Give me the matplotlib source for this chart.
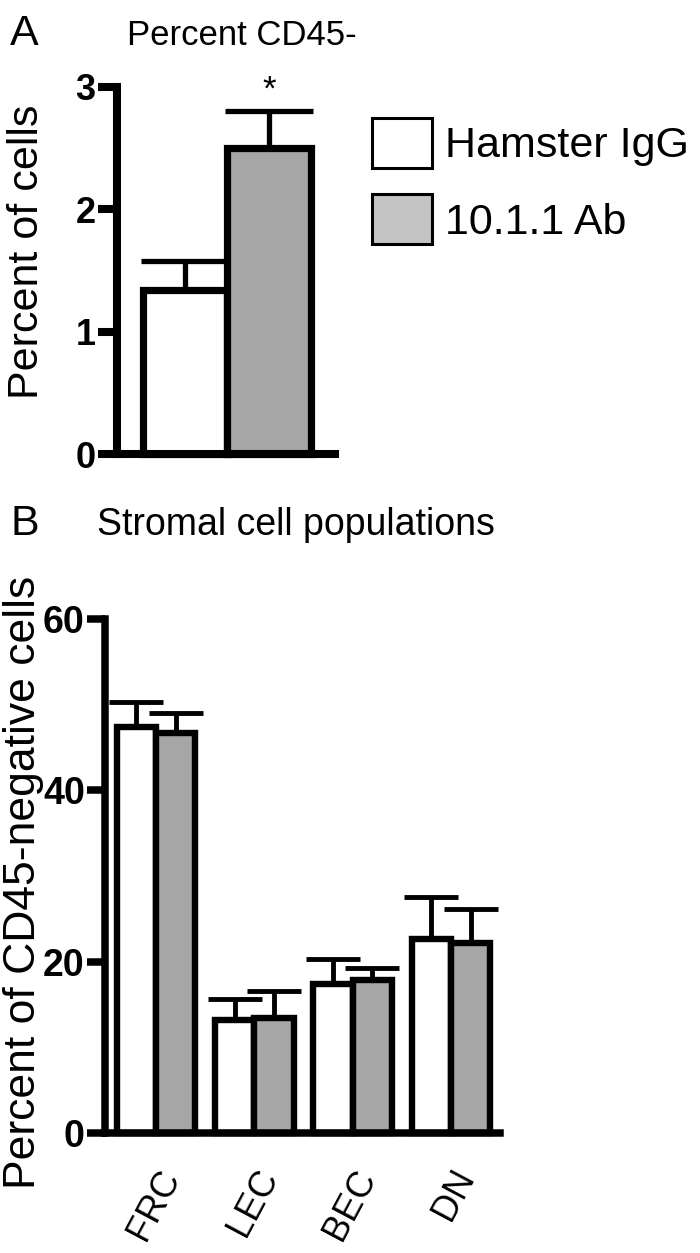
import matplotlib
matplotlib.use("Agg")
import matplotlib.pyplot as plt
from matplotlib import font_manager as fm
from matplotlib.patches import Patch
import numpy as np

# ---------------- data ----------------
groups_a = ["Hamster IgG", "10.1.1 Ab"]
values_a = [1.34, 2.50]
errors_a = [0.24, 0.30]

categories_b = ["FRC", "LEC", "BEC", "DN"]
igg_b = [47.4, 13.2, 17.4, 22.7]
igg_err_b = [2.9, 2.5, 2.9, 4.8]
ab_b = [46.7, 13.4, 17.9, 22.2]
ab_err_b = [2.3, 3.2, 1.4, 4.0]

yticks_a = [0, 1, 2, 3]
yticks_b = [0, 20, 40, 60]

WHITE = "#ffffff"
GRAY = "#a6a6a6"
LEG_GRAY = "#c4c4c4"

names = {f.name for f in fm.fontManager.ttflist}
REG = "Liberation Sans" if "Liberation Sans" in names else "DejaVu Sans"
plt.rcParams["font.family"] = [REG, "DejaVu Sans"]

W, H = 700, 1253
fig = plt.figure(figsize=(W / 100, H / 100), dpi=100)


def fx(px):
    return px / W


def fy(py):
    return 1 - py / H


def upper_errorbar(ax, x, y, err, capsize, lw):
    _, caps, _ = ax.errorbar(x, y, yerr=[np.zeros(len(err)), err], fmt="none",
                             ecolor="black", elinewidth=lw, capsize=capsize,
                             capthick=lw, zorder=1)
    # hide the lower caps (which sit at the bar top)
    if caps:
        caps[0].set_visible(False)


# ---------------- panel A ----------------
axA = fig.add_axes([fx(117), fy(454), (335 - 117) / W, (454 - 87) / H])
xa = np.array([1.0, 2.0])
upper_errorbar(axA, xa, values_a, errors_a, 32, 3.8)
axA.bar(xa, values_a, width=1.0, color=[WHITE, GRAY], edgecolor="black",
        linewidth=5.2, zorder=2, clip_on=False)
axA.set_xlim(0.1845, 2.78)
axA.set_ylim(0, 3)
axA.set_yticks(yticks_a)
axA.set_xticks([])
for s in ["top", "right"]:
    axA.spines[s].set_visible(False)
for s in ["left", "bottom"]:
    axA.spines[s].set_linewidth(5.8)
    axA.spines[s].set_capstyle("projecting")
    axA.spines[s].set_zorder(3)
axA.tick_params(axis="y", length=14, width=5.8, pad=1.5, labelsize=26)
for lab in axA.get_yticklabels():
    lab.set_fontweight("bold")
axA.text(2.0, 2.90, "*", ha="center", va="baseline", fontsize=25)

fig.text(fx(27), fy(252), "Percent of cells", rotation=90, ha="center",
         va="center", fontsize=31)

fig.text(fx(10), fy(45), "A", fontsize=31, va="baseline", ha="left")
fig.text(fx(127), fy(45), "Percent CD45-", fontsize=25,
         va="baseline", ha="left")

handles = [Patch(facecolor=WHITE, edgecolor="black", linewidth=2.2),
           Patch(facecolor=LEG_GRAY, edgecolor="black", linewidth=2.2)]
fig.legend(handles, groups_a, loc="upper left",
           bbox_to_anchor=(fx(372), fy(118)), frameon=False, borderpad=0,
           borderaxespad=0, fontsize=31, handlelength=1.4, handleheight=1.42,
           handletextpad=0.3, labelspacing=0.6)

# ---------------- panel B ----------------
axB = fig.add_axes([fx(105), fy(1133), (500 - 105) / W, (1133 - 619) / H])
xb = np.arange(len(categories_b))
bw = 0.4
upper_errorbar(axB, xb - bw / 2, igg_b, igg_err_b, 19.5, 3.5)
upper_errorbar(axB, xb + bw / 2, ab_b, ab_err_b, 19.5, 3.5)
axB.bar(xb - bw / 2, igg_b, width=bw, color=WHITE, edgecolor="black",
        linewidth=4.6, zorder=2, clip_on=False)
axB.bar(xb + bw / 2, ab_b, width=bw, color=GRAY, edgecolor="black",
        linewidth=4.6, zorder=2, clip_on=False)
axB.set_xlim(-0.519, 3.5)
axB.set_ylim(0, 60)
axB.set_yticks(yticks_b)
axB.set_xticks(xb)
axB.set_xticklabels(categories_b)
for s in ["top", "right"]:
    axB.spines[s].set_visible(False)
for s in ["left", "bottom"]:
    axB.spines[s].set_linewidth(5.4)
    axB.spines[s].set_capstyle("projecting")
    axB.spines[s].set_zorder(3)
axB.tick_params(axis="y", length=13, width=5.4, pad=1.5, labelsize=27)
axB.tick_params(axis="x", length=0, pad=22, labelsize=26)
for lab in axB.get_yticklabels():
    lab.set_fontweight("bold")
for lab in axB.get_xticklabels():
    lab.set_rotation(62)
    lab.set_ha("right")
    lab.set_rotation_mode("anchor")

fig.text(fx(24), fy(882), "Percent of CD45-negative cells", rotation=90,
         ha="center", va="center", fontsize=32)
fig.text(fx(10), fy(535), "B", fontsize=31, va="baseline", ha="left")
fig.text(fx(97), fy(535), "Stromal cell populations",
         fontsize=27, va="baseline", ha="left")

fig.savefig("out.png", dpi=100)
